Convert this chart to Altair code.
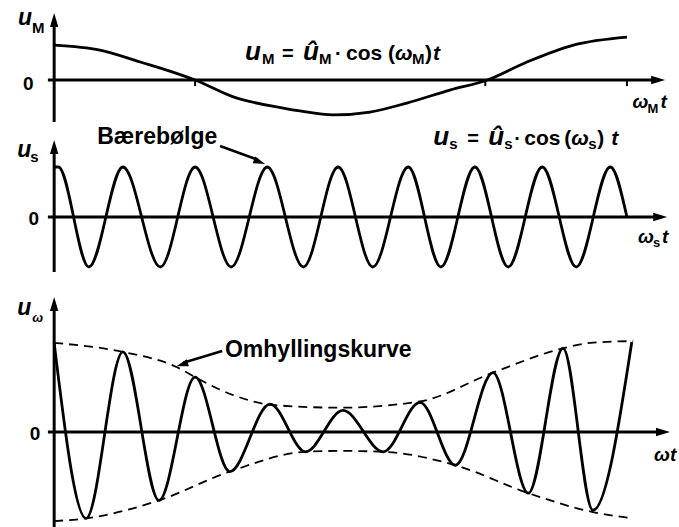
import altair as alt
import pandas as pd

# Time axis in carrier periods, amplitudes normalised per panel.

# Modulating signal u_M
mod_t = [0.00, 0.66, 1.24, 1.71, 2.03, 2.58, 3.30, 3.54, 4.02, 4.55, 5.08, 5.70, 6.24, 6.81, 7.48, 8.25]
mod_u = [0.97, 0.83, 0.50, 0.22, 0.00, -0.47, -0.78, -0.86, -0.97, -0.89, -0.64, -0.28, 0.00, 0.50, 0.97, 1.19]
mod_ticks = [2.03, 6.21, 8.25]

# Carrier u_s (peaks and troughs, ending on a zero crossing)
carrier_t = [0.00, 0.06, 0.50, 0.99, 1.53, 2.03, 2.55, 3.07, 3.59, 4.09, 4.59,
             5.10, 5.57, 6.06, 6.54, 7.03, 7.52, 8.01, 8.25]
carrier_u = [1.0, 1.0, -1.0, 1.0, -1.0, 1.0, -1.0, 1.0, -1.0, 1.0, -1.0,
             1.0, -1.0, 1.0, -1.0, 1.0, -1.0, 1.0, 0.0]

# Modulated signal u_w (extrema)
am_t = [0.00, 0.46, 0.99, 1.51, 2.03, 2.53, 3.11, 3.62, 4.16, 4.74, 5.27, 5.78, 6.32, 6.83, 7.33, 7.76, 8.32]
am_u = [0.99, -0.96, 0.89, -0.76, 0.61, -0.44, 0.31, -0.22, 0.24, -0.22, 0.33, -0.37, 0.66, -0.68, 0.93, -0.87, 1.00]

# Envelope (upper and lower)
env_hi_t = [0.00, 0.99, 1.77, 2.10, 2.58, 3.15, 4.12, 5.27, 6.32, 7.33, 7.72, 8.34]
env_hi_u = [0.99, 0.89, 0.72, 0.58, 0.41, 0.30, 0.27, 0.34, 0.66, 0.93, 0.99, 1.01]
env_lo_t = [0.00, 0.46, 1.51, 2.53, 3.62, 4.12, 4.74, 5.78, 6.83, 7.76, 8.34]
env_lo_u = [-0.99, -0.96, -0.76, -0.44, -0.22, -0.21, -0.22, -0.37, -0.68, -0.89, -0.96]

W = 679
FONT = "Liberation Sans"
HEAD = "M0,0L-2,-0.6L-2,0.6Z"
XS = alt.Scale(domain=[-0.78, 9.0], nice=False, zero=False)


def yscale(lo, hi):
    return alt.Scale(domain=[lo, hi], nice=False, zero=False)


def curve(t, u, ys, width=2.8, dash=None):
    df = pd.DataFrame({"t": t, "u": u})
    kw = dict(color="black", strokeWidth=width, interpolate="monotone",
              strokeCap="butt", strokeJoin="round")
    if dash:
        kw["strokeDash"] = dash
    return alt.Chart(df).mark_line(**kw).encode(
        x=alt.X("t:Q", scale=XS, axis=None),
        y=alt.Y("u:Q", scale=ys, axis=None),
    )


def seg(x1, y1, x2, y2, ys, w=3.0):
    return alt.Chart().mark_rule(color="black", strokeWidth=w).encode(
        x=alt.XDatum(x1, scale=XS, axis=None),
        y=alt.YDatum(y1, scale=ys, axis=None),
        x2=alt.datum(x2), y2=alt.datum(y2),
    )


def head(x, y, ys, angle, size=196):
    return alt.Chart().mark_point(
        shape=HEAD, filled=True, size=size, angle=angle,
        color="black", opacity=1, strokeWidth=0,
    ).encode(
        x=alt.XDatum(x, scale=XS, axis=None),
        y=alt.YDatum(y, scale=ys, axis=None),
    )


def label(x, y, ys, pieces):
    out = []
    for text, dx, dy, size, italic in pieces:
        out.append(alt.Chart().mark_text(
            text=text, align="left", baseline="alphabetic", font=FONT,
            fontSize=size, fontWeight="bold",
            fontStyle="italic" if italic else "normal",
            dx=dx, dy=dy, color="black",
        ).encode(
            x=alt.XDatum(x, scale=XS, axis=None),
            y=alt.YDatum(y, scale=ys, axis=None),
        ))
    return out


def axes(ys, y_lo, y_top, y_tip, x_end, x_tip):
    return [
        seg(0, y_lo, 0, y_top, ys),
        head(0, y_tip, ys, 270),
        seg(-0.09, 0, x_end, 0, ys),
        head(x_tip, 0, ys, 0),
    ]


# Panel 1: modulating signal
ys1 = yscale(-1.389, 2.222)
p1_layers = [curve(mod_t, mod_u, ys1)]
p1_layers += axes(ys1, -1.167, 1.58, 1.861, 8.65, 8.80)
p1_layers += [seg(t, 0, t, -0.17, ys1, 2) for t in mod_ticks]
p1_layers += label(-0.52, 1.53, ys1, [("u", 0, 0, 23, True), ("M", 14, 8, 15, False)])
p1_layers += label(-0.45, -0.28, ys1, [("0", 0, 0, 19, False)])
p1_layers += label(2.75, 0.56, ys1, [
    ("u", 0, 0, 26, True), ("M", 17, 4, 15, False), ("=", 37, 0, 20, False),
    ("û", 58, 0, 26, True), ("M", 74, 4, 15, False), ("·", 90, 0, 20, False),
    ("cos", 101, 0, 21, False), ("(", 143, 0, 21, False), ("ω", 150, 0, 21, True),
    ("M", 167, 4, 15, False), (")", 180, 0, 21, False), ("t", 188, 0, 21, True),
])
p1_layers += label(8.33, -0.78, ys1, [("ω", 0, 0, 19, True), ("M", 15, 5, 13, False), ("t", 28, 0, 19, True)])
p1 = alt.layer(*p1_layers).properties(width=W, height=130)

# Panel 2: carrier
ys2 = yscale(-1.26, 1.74)
p2_layers = [curve(carrier_t, carrier_u, ys2)]
p2_layers += axes(ys2, -1.10, 1.34, 1.54, 8.68, 8.83)
p2_layers += label(-0.53, 1.20, ys2, [("u", 0, 0, 23, True), ("s", 13, 5, 15, False)])
p2_layers += label(-0.37, -0.16, ys2, [("0", 0, 0, 19, False)])
p2_layers += label(5.46, 1.44, ys2, [
    ("u", 0, 0, 26, True), ("s", 16, 4, 15, False), ("=", 34, 0, 20, False),
    ("û", 55, 0, 26, True), ("s", 71, 4, 15, False), ("·", 81, 0, 20, False),
    ("cos", 91, 0, 21, False), ("(", 131, 0, 21, False), ("ω", 138, 0, 21, True),
    ("s", 155, 4, 15, False), (")", 164, 0, 21, False), ("t", 178, 0, 21, True),
])
p2_layers += label(8.41, -0.52, ys2, [("ω", 0, 0, 19, True), ("s", 15, 4, 13, False), ("t", 24, 0, 19, True)])
p2_layers += label(0.62, 1.46, ys2, [("Bærebølge", 0, 0, 23, False)])
p2_layers += [seg(2.39, 1.42, 2.94, 1.14, ys2, 2.6), head(3.04, 1.06, ys2, 20, 144)]
p2 = alt.layer(*p2_layers).properties(width=W, height=150)

# Panel 3: modulated signal with envelope
ys3 = yscale(-1.056, 1.689)
p3_layers = [
    curve(env_hi_t, env_hi_u, ys3, 1.8, [9, 6]),
    curve(env_lo_t, env_lo_u, ys3, 1.8, [9, 6]),
    curve(am_t, am_u, ys3),
]
p3_layers += axes(ys3, -1.056, 1.39, 1.5, 8.72, 8.87)
p3_layers += label(-0.53, 1.30, ys3, [("u", 0, 0, 23, True), ("ω", 15, 7, 13, True)])
p3_layers += label(-0.35, -0.09, ys3, [("0", 0, 0, 19, False)])
p3_layers += label(8.64, -0.32, ys3, [("ω", 0, 0, 19, True), ("t", 16, 0, 19, True)])
p3_layers += label(2.46, 0.83, ys3, [("Omhyllingskurve", 0, 0, 23, False)])
p3_layers += [seg(2.42, 0.90, 1.86, 0.77, ys3, 2.6), head(1.76, 0.73, ys3, 163, 144)]
p3 = alt.layer(*p3_layers).properties(width=W, height=247)

chart = alt.vconcat(p1, p2, p3, spacing=0, bounds="flush").properties(
    padding=0, background="white"
).configure_view(stroke=None)

chart.save("out.html", embed_options={"renderer": "svg", "actions": False})
